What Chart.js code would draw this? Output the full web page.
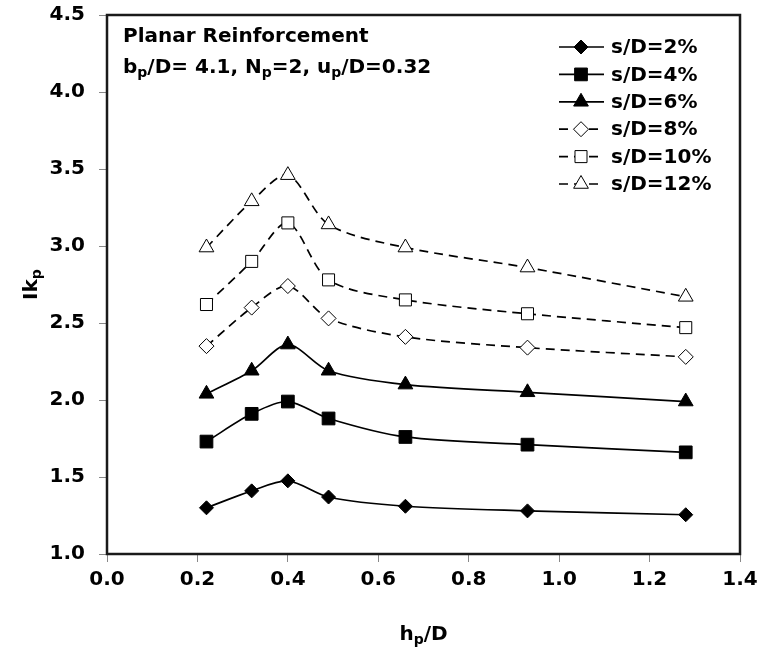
<!DOCTYPE html>
<html>
<head>
<meta charset="utf-8">
<script src="https://cdn.jsdelivr.net/npm/chart.js@4.4.1/dist/chart.umd.min.js"></script>
<style>
  body { margin: 0; background: #fff; }
  #wrap { width: 760px; height: 653px; }
</style>
</head>
<body>
<div id="wrap"><canvas id="chart"></canvas></div>
<script>
// h_p/D values (x axis)
const hpD = [0.22, 0.32, 0.40, 0.49, 0.66, 0.93, 1.28]

// Ik_p for each s/D
const sD2 = [1.30, 1.41, 1.475, 1.37, 1.31, 1.28, 1.255]
const sD4 = [1.73, 1.91, 1.99, 1.88, 1.76, 1.71, 1.66]
const sD6 = [2.04, 2.19, 2.36, 2.19, 2.10, 2.05, 1.99]
const sD8 = [2.35, 2.60, 2.74, 2.53, 2.41, 2.34, 2.28]
const sD10 = [2.62, 2.90, 3.15, 2.78, 2.65, 2.56, 2.47]
const sD12 = [2.99, 3.29, 3.46, 3.14, 2.99, 2.86, 2.67]

const seriesLabels = ['s/D=2%', 's/D=4%', 's/D=6%', 's/D=8%', 's/D=10%', 's/D=12%']

const FONT = 'DejaVu Sans'
Chart.defaults.font.family = FONT
Chart.defaults.font.size = 20
Chart.defaults.font.weight = 'bold'
Chart.defaults.color = '#000'

function makeSet(label, values, pointStyle, radius, filled, dashed) {
  return {
    label: label,
    data: hpD.map((x, i) => ({ x: x, y: values[i] })),
    borderColor: '#000',
    borderWidth: dashed ? 1.7 : 1.7,
    borderDash: dashed ? [9, 6] : [],
    pointStyle: pointStyle,
    pointRadius: radius,
    pointHoverRadius: radius,
    pointBackgroundColor: filled ? '#000' : '#fff',
    pointBorderColor: '#000',
    pointBorderWidth: 1,
    tension: 0.3,
    fill: false
  }
}

// draw text with subscript pieces
function richWidth(ctx, parts, size) {
  let w = 0
  for (const [t, sub] of parts) {
    ctx.font = 'bold ' + (sub ? Math.round(size * 0.68) : size) + 'px "' + FONT + '"'
    w += ctx.measureText(t).width
  }
  return w
}
function drawRich(ctx, parts, x, y, size) {
  for (const [t, sub] of parts) {
    ctx.font = 'bold ' + (sub ? Math.round(size * 0.68) : size) + 'px "' + FONT + '"'
    ctx.fillText(t, x, sub ? y + size * 0.22 : y)
    x += ctx.measureText(t).width
  }
}

const decorations = {
  id: 'decorations',
  afterDraw(chart) {
    const ctx = chart.ctx
    const area = chart.chartArea
    ctx.save()

    // plot frame
    ctx.strokeStyle = '#1a1a1a'
    ctx.lineWidth = 2.5
    ctx.strokeRect(area.left, area.top, area.right - area.left, area.bottom - area.top)

    ctx.fillStyle = '#000'
    ctx.textAlign = 'left'
    ctx.textBaseline = 'alphabetic'

    // annotation
    drawRich(ctx, [['Planar Reinforcement', false]], 123, 42, 20)
    drawRich(ctx, [['b', false], ['p', true], ['/D= 4.1, N', false], ['p', true],
      ['=2, u', false], ['p', true], ['/D=0.32', false]], 123, 73, 20)

    // axis titles
    const xt = [['h', false], ['p', true], ['/D', false]]
    const xw = richWidth(ctx, xt, 20)
    drawRich(ctx, xt, (area.left + area.right) / 2 - xw / 2, 640, 20)

    const yt = [['Ik', false], ['p', true]]
    const yw = richWidth(ctx, yt, 20)
    ctx.save()
    ctx.translate(37, (area.top + area.bottom) / 2)
    ctx.rotate(-Math.PI / 2)
    drawRich(ctx, yt, -yw / 2, 0, 20)
    ctx.restore()

    // legend
    chart.data.datasets.forEach((ds, i) => {
      const y = 47 + i * 27.4
      ctx.save()
      ctx.strokeStyle = '#000'
      ctx.lineWidth = ds.borderWidth
      ctx.setLineDash(ds.borderDash)
      ctx.beginPath()
      ctx.moveTo(559, y)
      ctx.lineTo(604, y)
      ctx.stroke()
      ctx.setLineDash([])
      ctx.fillStyle = ds.pointBackgroundColor
      ctx.strokeStyle = '#000'
      ctx.lineWidth = 1
      Chart.helpers.drawPoint(ctx, {
        pointStyle: ds.pointStyle,
        radius: ds.pointRadius,
        borderWidth: 1,
        rotation: 0
      }, 581, y)
      ctx.restore()
      ctx.fillStyle = '#000'
      ctx.textBaseline = 'middle'
      ctx.font = 'bold 20px "' + FONT + '"'
      ctx.fillText(ds.label, 611, y + 1)
    })
    ctx.restore()
  }
}

new Chart(document.getElementById('chart'), {
  type: 'line',
  data: {
    datasets: [
      makeSet(seriesLabels[0], sD2, 'rectRot', 7, true, false),
      makeSet(seriesLabels[1], sD4, 'rect', 9, true, false),
      makeSet(seriesLabels[2], sD6, 'triangle', 8.5, true, false),
      makeSet(seriesLabels[3], sD8, 'rectRot', 7.5, false, true),
      makeSet(seriesLabels[4], sD10, 'rect', 8.5, false, true),
      makeSet(seriesLabels[5], sD12, 'triangle', 8.5, false, true)
    ]
  },
  options: {
    responsive: true,
    maintainAspectRatio: false,
    animation: false,
    layout: { padding: { top: 15, right: 20, left: 0, bottom: 0 } },
    plugins: {
      legend: { display: false },
      tooltip: { enabled: false }
    },
    scales: {
      x: {
        type: 'linear',
        min: 0,
        max: 1.4,
        afterFit: s => { s.height = 99; s.paddingLeft = 0; s.paddingRight = 0 },
        grid: { drawOnChartArea: false, tickLength: 8, color: '#888' },
        border: { display: false },
        ticks: {
          stepSize: 0.2,
          padding: 6,
          callback: v => v.toFixed(1)
        }
      },
      y: {
        min: 1,
        max: 4.5,
        afterFit: s => { s.width = 107; s.paddingTop = 0; s.paddingBottom = 0 },
        grid: { drawOnChartArea: false, tickLength: 8, color: '#888' },
        border: { display: false },
        ticks: {
          stepSize: 0.5,
          padding: 14,
          callback: v => v.toFixed(1)
        }
      }
    }
  },
  plugins: [decorations]
})
</script>
</body>
</html>
